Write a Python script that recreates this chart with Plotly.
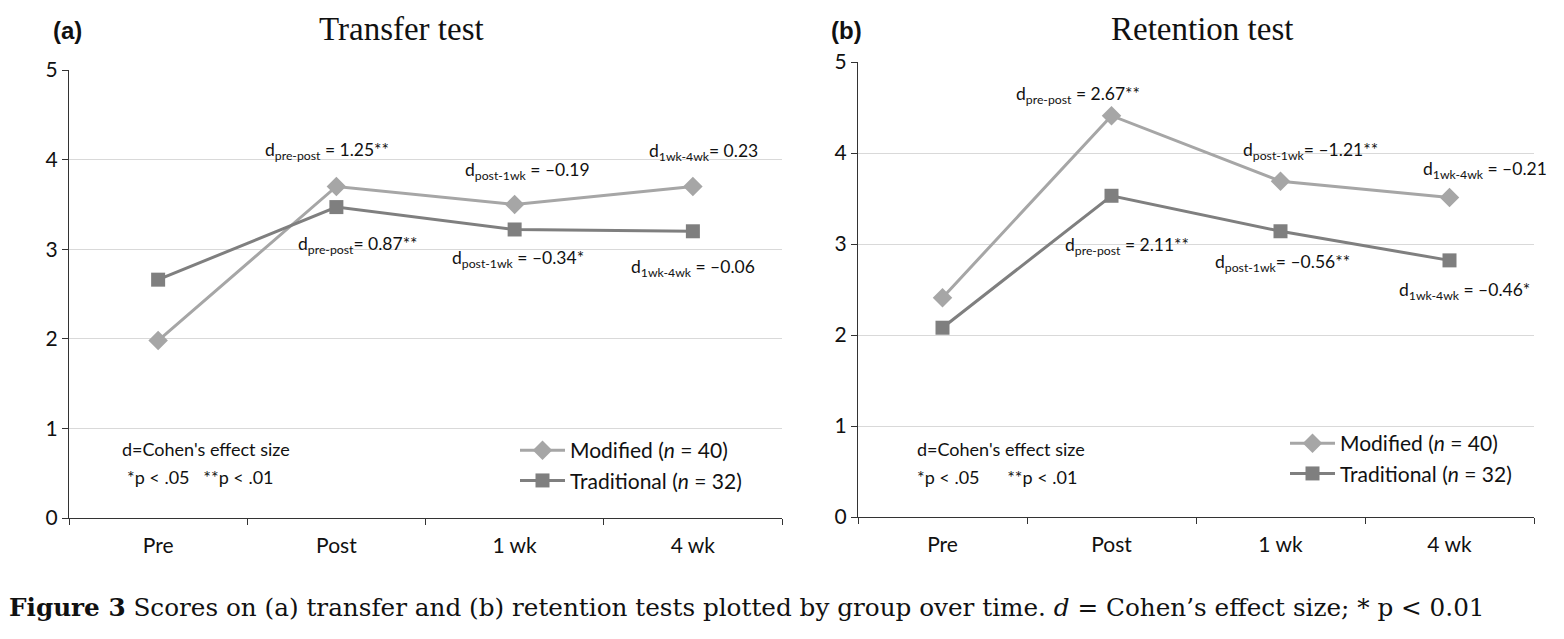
import plotly.graph_objects as go

categories = ["Pre", "Post", "1 wk", "4 wk"]
transfer_modified = [1.98, 3.70, 3.50, 3.70]
transfer_traditional = [2.66, 3.47, 3.22, 3.20]
retention_modified = [2.41, 4.41, 3.69, 3.51]
retention_traditional = [2.08, 3.53, 3.14, 2.82]
y_ticks = [0, 1, 2, 3, 4, 5]

transfer_effects = [
    ("d<sub>pre-post</sub> = 1.25**", 0.95, 4.10),
    ("d<sub>post-1wk</sub> = –0.19", 2.07, 3.87),
    ("d<sub>1wk-4wk</sub>= 0.23", 3.06, 4.08),
    ("d<sub>pre-post</sub>= 0.87**", 1.12, 3.05),
    ("d<sub>post-1wk</sub> = –0.34*", 2.02, 2.89),
    ("d<sub>1wk-4wk</sub> = –0.06", 3.00, 2.79),
]
retention_effects = [
    ("d<sub>pre-post</sub> = 2.67**", 0.80, 4.64),
    ("d<sub>post-1wk</sub>= –1.21**", 2.18, 4.02),
    ("d<sub>1wk-4wk</sub> = –0.21", 3.21, 3.81),
    ("d<sub>pre-post</sub> = 2.11**", 1.09, 2.98),
    ("d<sub>post-1wk</sub>= –0.56**", 2.01, 2.79),
    ("d<sub>1wk-4wk</sub> = –0.46*", 3.09, 2.48),
]

MOD_COLOR = "#a6a6a6"
TRAD_COLOR = "#7f7f7f"
SANS = "Lato, 'Open Sans', sans-serif"
SERIF = "'Liberation Serif', 'DejaVu Serif', serif"
CAPTION_SERIF = "'DejaVu Serif', 'Liberation Serif', serif"

fig = go.Figure()

def add_pair(mod, trad, xa, ya, leg):
    fig.add_trace(go.Scatter(
        x=categories, y=mod, xaxis=xa, yaxis=ya, mode="lines+markers",
        name="Modified (<i>n</i> = 40)", legend=leg, showlegend=True,
        legendgroup=leg + "m",
        line=dict(color=MOD_COLOR, width=3),
        marker=dict(symbol="diamond", size=15, color=MOD_COLOR),
    ))
    fig.add_trace(go.Scatter(
        x=categories, y=trad, xaxis=xa, yaxis=ya, mode="lines+markers",
        name="Traditional (<i>n</i> = 32)", legend=leg, showlegend=True,
        legendgroup=leg + "t",
        line=dict(color=TRAD_COLOR, width=3),
        marker=dict(symbol="square", size=14, color=TRAD_COLOR),
    ))

add_pair(transfer_modified, transfer_traditional, "x", "y", "legend")
add_pair(retention_modified, retention_traditional, "x2", "y2", "legend2")

axis_common_x = dict(
    type="category", categoryorder="array", categoryarray=categories,
    range=[-0.5, 3.5], showline=True, linecolor="#333333", linewidth=1.2,
    ticks="outside", tickson="boundaries", ticklen=6, tickcolor="#333333",
    showgrid=False, tickfont=dict(family=SANS, size=21, color="#111111"),
    fixedrange=True, automargin=False, ticklabelstandoff=9,
)
axis_common_y = dict(
    range=[0, 5], tickvals=y_ticks, showline=True, linecolor="#333333",
    linewidth=1.2, ticks="outside", ticklen=6, tickcolor="#333333",
    showgrid=True, gridcolor="#d9d9d9", gridwidth=1, zeroline=False,
    tickfont=dict(family=SANS, size=21, color="#111111"), fixedrange=True,
    automargin=False,
)

annotations = []
for text, xi, yv in transfer_effects:
    annotations.append(dict(text=text, x=xi, y=yv, xref="x", yref="y",
                            showarrow=False, font=dict(family=SANS, size=17.5, color="#111111")))
for text, xi, yv in retention_effects:
    annotations.append(dict(text=text, x=xi, y=yv, xref="x2", yref="y2",
                            showarrow=False, font=dict(family=SANS, size=17.5, color="#111111")))

W, H = 1564, 639
def px(x):
    return x / W
def py(y):
    return 1 - y / H

notes = [
    ("d=Cohen's effect size", 120, 449),
    ("*p < .05   **p < .01", 125, 477),
    ("d=Cohen's effect size", 915, 449),
    ("*p < .05      **p < .01", 915, 477),
]
for text, x, y in notes:
    annotations.append(dict(text=text, x=px(x), y=py(y), xref="paper", yref="paper",
                            xanchor="left", yanchor="middle", showarrow=False,
                            font=dict(family=SANS, size=18, color="#111111")))

annotations += [
    dict(text="<b>(a)</b>", x=px(51), y=py(30), xref="paper", yref="paper",
         xanchor="left", yanchor="middle", showarrow=False,
         font=dict(family="'Liberation Sans Narrow', 'Liberation Sans', sans-serif", size=24, color="#111111")),
    dict(text="Transfer test", x=px(401), y=py(29), xref="paper", yref="paper",
         xanchor="center", yanchor="middle", showarrow=False,
         font=dict(family=SERIF, size=33, color="#111111")),
    dict(text="<b>(b)</b>", x=px(829), y=py(30), xref="paper", yref="paper",
         xanchor="left", yanchor="middle", showarrow=False,
         font=dict(family="'Liberation Sans Narrow', 'Liberation Sans', sans-serif", size=24, color="#111111")),
    dict(text="Retention test", x=px(1202), y=py(29), xref="paper", yref="paper",
         xanchor="center", yanchor="middle", showarrow=False,
         font=dict(family=SERIF, size=33, color="#111111")),
    dict(text="<b>Figure 3</b> Scores on (a) transfer and (b) retention tests plotted by group over time. <i>d</i> = Cohen’s effect size; * p < 0.01",
         x=px(7), y=py(607), xref="paper", yref="paper", xanchor="left", yanchor="middle",
         showarrow=False, font=dict(family=CAPTION_SERIF, size=24.7, color="#111111")),
]

legend_common = dict(
    bgcolor="rgba(0,0,0,0)", font=dict(family=SANS, size=21, color="#111111"),
    xanchor="left", yanchor="top", itemwidth=45, tracegroupgap=7,
    traceorder="normal",
)

fig.update_layout(
    template="none",
    width=W, height=H, autosize=False,
    margin=dict(l=0, r=0, t=0, b=0, pad=0, autoexpand=False),
    paper_bgcolor="white", plot_bgcolor="white",
    xaxis=dict(domain=[px(69), px(782)], anchor="y", **axis_common_x),
    yaxis=dict(domain=[py(518), py(70)], anchor="x", **axis_common_y),
    xaxis2=dict(domain=[px(858), px(1534)], anchor="y2", **axis_common_x),
    yaxis2=dict(domain=[py(517), py(62)], anchor="x2", **axis_common_y),
    legend=dict(x=px(515), y=py(430), **legend_common),
    legend2=dict(x=px(1285), y=py(423), **legend_common),
    annotations=annotations,
    showlegend=True,
)

fig.write_html(
    "out.html",
    config={"displayModeBar": False},
    post_script="document.body.style.margin='0';document.body.style.overflow='hidden';",
)
